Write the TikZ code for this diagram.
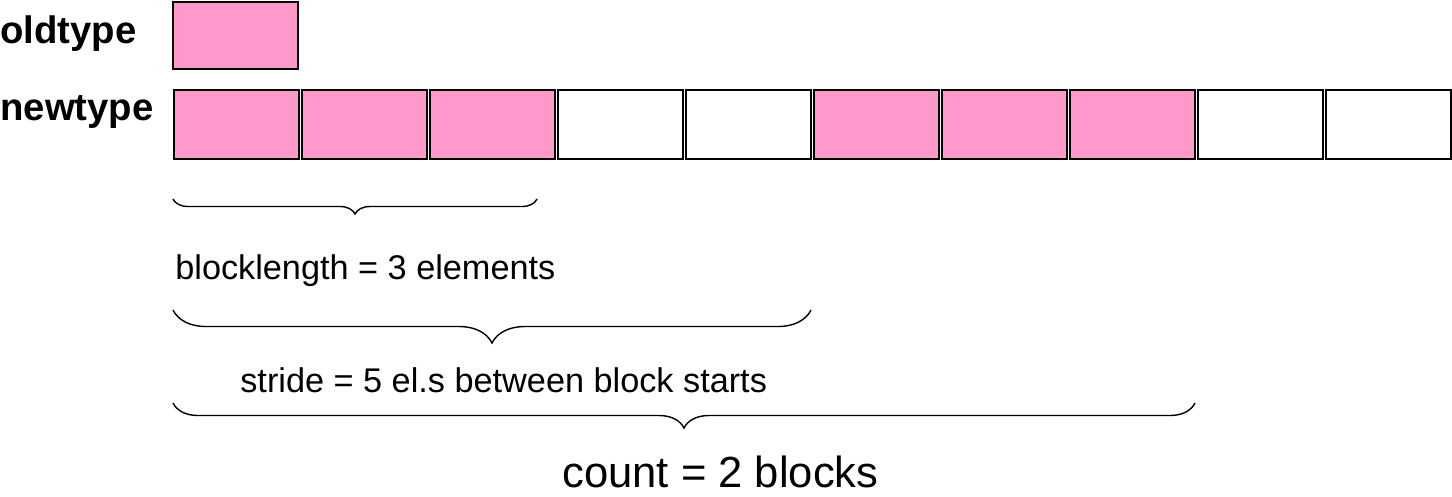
\documentclass[tikz,border=0pt]{standalone}
\usepackage{fontspec}
\setmainfont{Liberation Sans}
\usetikzlibrary{positioning,decorations.pathreplacing,calc}
\definecolor{cellpink}{RGB}{255,153,204}

\begin{document}
\begin{tikzpicture}[
    cell/.style={draw, line width=0.8pt, minimum width=2.5cm, minimum height=1.38cm,
                 inner sep=0, outer sep=0},
    fullcell/.style={cell, fill=cellpink},
    emptycell/.style={cell, fill=white},
    typelabel/.style={anchor=base west, inner sep=0, font=\fontsize{21.8}{24}\selectfont\bfseries},
    bracelabel/.style={anchor=base west, inner sep=0, font=\fontsize{19.5}{22}\selectfont},
    brc/.style={decorate, decoration={brace, mirror, amplitude=#1}, line width=0.8pt}]

    \useasboundingbox (0,0) rectangle (29.04,-9.92);

    % type labels
    \node[typelabel] (oldlbl) at (0,-0.86) {oldtype};
    \node[typelabel] (newlbl) at (0,-2.40) {newtype};

    % oldtype element
    \node[fullcell, minimum height=1.34cm] (old) at (4.71,-0.71) {};

    % newtype elements
    \node[fullcell] (c1) at (4.73,-2.49) {};
    \node[fullcell, right=0.06cm of c1] (c2) {};
    \node[fullcell, right=0.06cm of c2] (c3) {};
    \node[emptycell, right=0.06cm of c3] (c4) {};
    \node[emptycell, right=0.06cm of c4] (c5) {};
    \node[fullcell, right=0.06cm of c5] (c6) {};
    \node[fullcell, right=0.06cm of c6] (c7) {};
    \node[fullcell, right=0.06cm of c7] (c8) {};
    \node[emptycell, right=0.06cm of c8] (c9) {};
    \node[emptycell, right=0.06cm of c9] (c10) {};

    % brace end points
    \coordinate (b1s) at ($(c1.south west)+(-0.02,-0.80)$);
    \coordinate (b1e) at (10.74,-3.98);
    \coordinate (b2s) at ($(c1.south west)+(-0.02,-3.02)$);
    \coordinate (b2e) at ($(c5.south east)+(0,-3.02)$);
    \coordinate (b3s) at ($(c1.south west)+(-0.02,-4.88)$);
    \coordinate (b3e) at ($(c8.south east)+(0,-4.88)$);

    \draw[brc=0.3cm] (b1s) -- (b1e);
    \draw[brc=0.66cm] (b2s) -- (b2e);
    \draw[brc=0.5cm] (b3s) -- (b3e);

    % brace texts
    \node[bracelabel] (blen) at (3.50,-5.58) {blocklength = 3 elements};
    \node[bracelabel] (strd) at (4.80,-7.84) {stride = 5 el.s between block starts};
    \node[bracelabel, font=\fontsize{24.8}{28}\selectfont] (cnt) at (11.24,-9.74) {count = 2 blocks};
\end{tikzpicture}
\end{document}
